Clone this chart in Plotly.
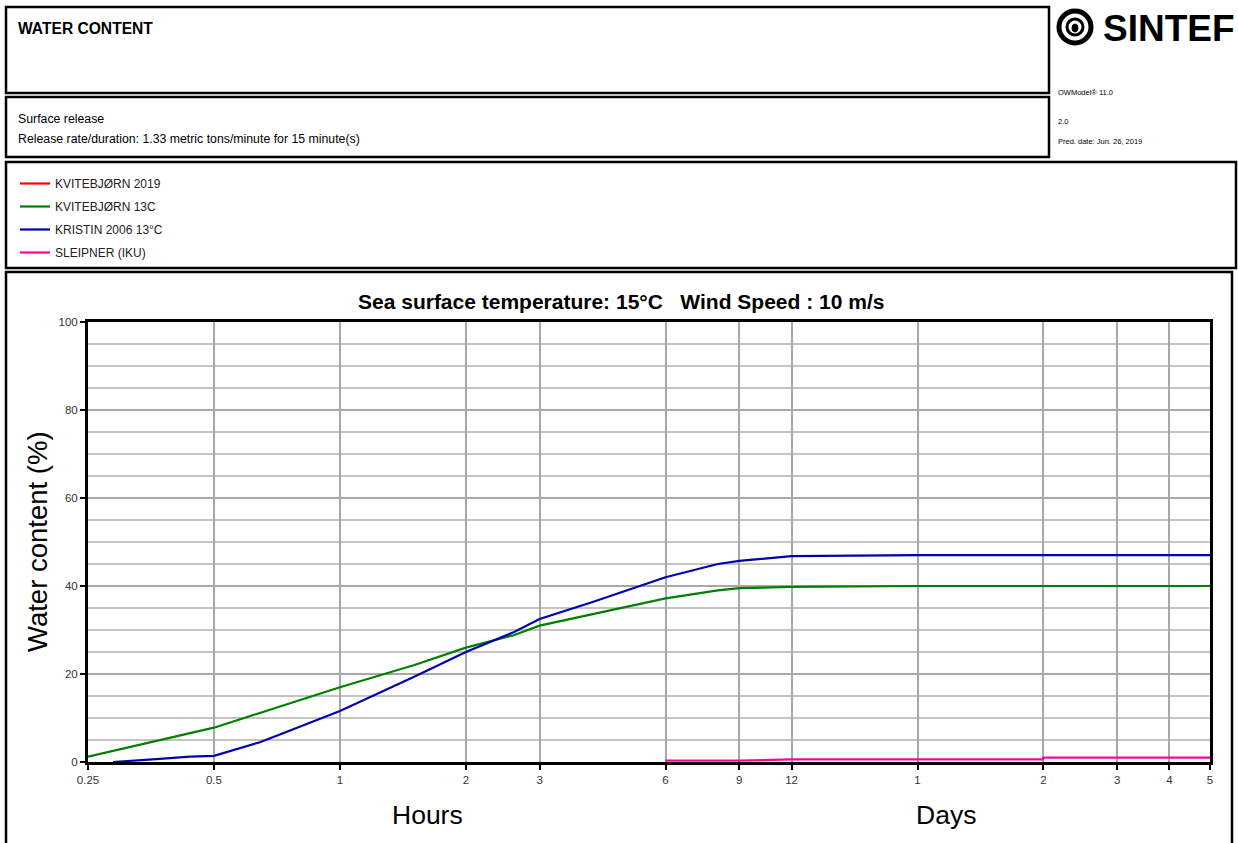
import plotly.graph_objects as go

# time in hours
kvite_13c_t = [0.25, 0.5, 1, 1.5, 2, 2.6, 3, 4, 6, 8, 9, 12, 24, 48, 72, 96, 120]
kvite_13c_v = [1.2, 7.8, 17.0, 22.0, 26.0, 28.8, 31.0, 33.6, 37.2, 39.0, 39.5, 39.8, 40.0, 40.0, 40.0, 40.0, 40.0]

kristin_t = [0.287, 0.33, 0.371, 0.438, 0.5, 0.644, 0.896, 1, 1.5, 2, 2.6, 3, 4, 6, 8, 9, 12, 24, 48, 72, 96, 120]
kristin_v = [0.0, 0.3, 0.7, 1.2, 1.4, 4.5, 9.8, 11.6, 19.3, 25.0, 29.5, 32.5, 36.3, 42.0, 45.0, 45.7, 46.8, 47.0, 47.0, 47.0, 47.0, 47.0]

sleipner_t = [6, 9, 12, 24, 47.9, 48, 72, 96, 120]
sleipner_v = [0.3, 0.3, 0.6, 0.6, 0.6, 1.0, 1.0, 1.0, 1.0]

# no visible data for this one in the chart
kvite_2019_t = [None]
kvite_2019_v = [None]

tick_vals = [0.25, 0.5, 1, 2, 3, 6, 9, 12, 24, 48, 72, 96, 120]
tick_text = ['0.25', '0.5', '1', '2', '3', '6', '9', '12', '1', '2', '3', '4', '5']

FONT = 'Liberation Sans, Arial, sans-serif'


# plot area in pixels: x 88..1210, y 322..762
def px(x):
    return (x - 88) / 1122


def py(y):
    return (762 - y) / 440


fig = go.Figure()
series = [
    ('KVITEBJØRN 2019', kvite_2019_t, kvite_2019_v, '#ff0000'),
    ('KVITEBJØRN 13C', kvite_13c_t, kvite_13c_v, '#008000'),
    ('KRISTIN 2006 13°C', kristin_t, kristin_v, '#0000b0'),
    ('SLEIPNER (IKU)', sleipner_t, sleipner_v, '#ff00a0'),
]
for i, (name, t, v, c) in enumerate(series):
    fig.add_trace(go.Scatter(x=t, y=v, name=name, mode='lines', legendgroup=str(i),
                             line=dict(color=c, width=2.2), showlegend=True))

fig.update_xaxes(type='log', range=[-0.60206, 2.0792], tickvals=tick_vals, ticktext=tick_text,
                 showgrid=True, gridcolor='#a8a8a8', gridwidth=1.5,
                 showline=True, linecolor='black', linewidth=3, mirror=True,
                 ticks='outside', ticklen=5, tickcolor='black', tickwidth=1.5,
                 tickfont=dict(size=11.5, color='#333'), zeroline=False)
fig.update_yaxes(range=[0, 100], tickvals=[0, 20, 40, 60, 80, 100],
                 showgrid=True, gridcolor='#a8a8a8', gridwidth=1.5,
                 minor=dict(dtick=5, showgrid=True, gridcolor='#c4c4c4', gridwidth=1.5),
                 showline=True, linecolor='black', linewidth=3, mirror=True,
                 ticks='outside', ticklen=5, tickcolor='black', tickwidth=1.5,
                 tickfont=dict(size=11.5, color='#333'), zeroline=False)

shapes = []
boxes = [(6, 7, 1049, 93), (6, 97, 1049, 157), (6, 162, 1236, 268), (6, 272, 1232, 860)]
for x0, y0, x1, y1 in boxes:
    shapes.append(dict(type='rect', xref='paper', yref='paper', x0=px(x0), x1=px(x1), y0=py(y0), y1=py(y1),
                       line=dict(color='black', width=2.5), layer='below'))
# SINTEF logo: thick ring with a smaller inner ring and a dot
shapes.append(dict(type='circle', xref='paper', yref='paper', x0=px(1059), x1=px(1091), y0=py(11), y1=py(43),
                   line=dict(color='black', width=5)))
shapes.append(dict(type='circle', xref='paper', yref='paper', x0=px(1067), x1=px(1083), y0=py(19), y1=py(35),
                   line=dict(color='black', width=3)))
shapes.append(dict(type='circle', xref='paper', yref='paper', x0=px(1072), x1=px(1078), y0=py(24), y1=py(32),
                   fillcolor='black', line=dict(color='black', width=1)))

annotations = [
    dict(text='<b>WATER CONTENT</b>', x=px(16), y=py(29), xanchor='left', yanchor='middle', font=dict(size=15.6)),
    dict(text='Surface release', x=px(16), y=py(119), xanchor='left', yanchor='middle', font=dict(size=12.3)),
    dict(text='Release rate/duration: 1.33 metric tons/minute for 15 minute(s)', x=px(16), y=py(139),
         xanchor='left', yanchor='middle', font=dict(size=12.3)),
    dict(text='<b>SINTEF</b>', x=px(1101), y=py(28), xanchor='left', yanchor='middle', font=dict(size=37)),
    dict(text='OWModel® 11.0', x=px(1056), y=py(92), xanchor='left', yanchor='middle', font=dict(size=7.5)),
    dict(text='2.0', x=px(1056), y=py(121), xanchor='left', yanchor='middle', font=dict(size=7.5)),
    dict(text='Pred. date: Jun. 26, 2019', x=px(1056), y=py(142), xanchor='left', yanchor='middle', font=dict(size=7.5)),
    dict(text='<b>Sea surface temperature: 15°C   Wind Speed : 10 m/s</b>', x=px(621), y=py(301),
         xanchor='center', yanchor='middle', font=dict(size=21)),
    dict(text='Water content (%)', x=px(37), y=py(542), xanchor='center', yanchor='middle', textangle=-90,
         font=dict(size=27.5)),
    dict(text='Hours', x=px(427), y=py(815), xanchor='center', yanchor='middle', font=dict(size=26.5)),
    dict(text='Days', x=px(946), y=py(815), xanchor='center', yanchor='middle', font=dict(size=26.5)),
]
for a in annotations:
    a.update(xref='paper', yref='paper', showarrow=False)
    a['font'].update(color='black', family=FONT)

fig.update_layout(
    width=1238, height=843,
    margin=dict(l=88, r=28, t=322, b=81),
    paper_bgcolor='white', plot_bgcolor='white',
    font=dict(family=FONT, color='black'),
    shapes=shapes, annotations=annotations,
    legend=dict(x=px(15), y=py(169), xanchor='left', yanchor='top', bgcolor='rgba(0,0,0,0)',
                font=dict(size=12, color='#222'), traceorder='grouped', tracegroupgap=4),
)

# page body has a default 8px margin; drop it so the figure sits at the window corner
fig.write_html("out.html", config={'displayModeBar': False},
               post_script="document.body.style.margin='0px';")
